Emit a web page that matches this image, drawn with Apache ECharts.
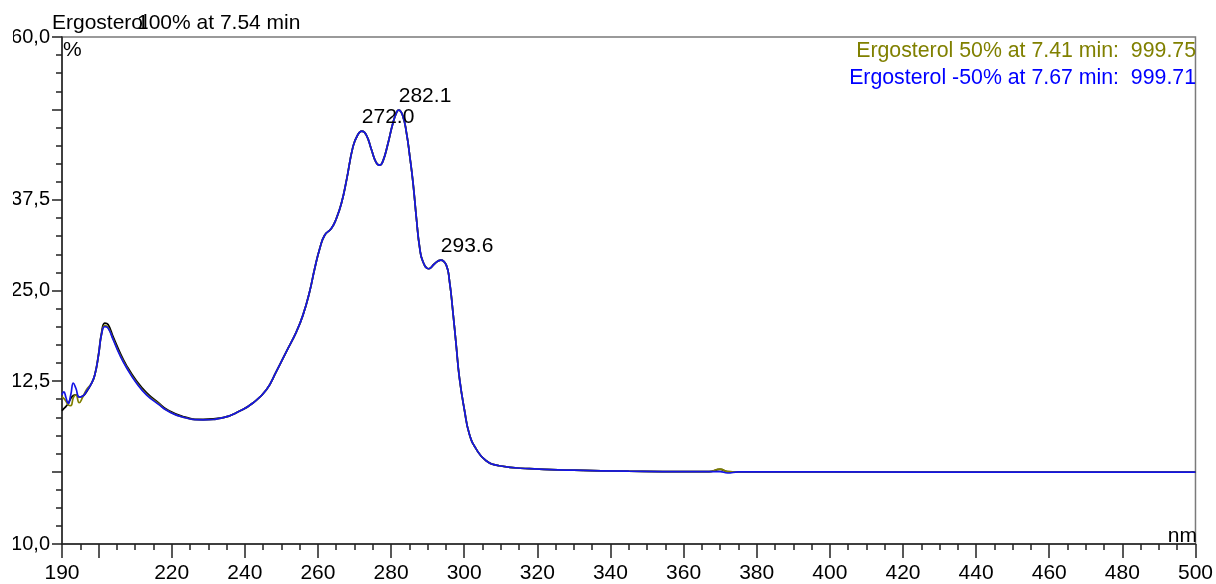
<!DOCTYPE html>
<html>
<head>
<meta charset="utf-8">
<title>Ergosterol UV spectra</title>
<script src="https://cdn.jsdelivr.net/npm/echarts@6/dist/echarts.min.js"></script>
<style>
  html, body { margin: 0; padding: 0; background: #fff; }
  /* the plot area is cut at the page margins, like the exported spectrum */
  #clip { position: absolute; left: 13px; top: 0; width: 1200px; height: 584px; overflow: hidden; }
  #chart { position: absolute; left: -13px; top: 0; width: 1216px; height: 584px; }
</style>
</head>
<body>
<div id="clip"><div id="chart"></div></div>
<script>
// Wavelength grid (nm) shared by the three spectra
const wavelengths = [
  190.0, 190.5, 191.1, 191.7, 192.4, 193.1, 193.8, 194.7, 195.6, 196.7,
  198.1, 199.0, 200.0, 200.8, 201.7, 202.6, 204.0, 205.8, 207.7, 210.4,
  213.1, 216.6, 218.6, 223.1, 228.6, 234.1, 238.6, 242.3, 245.9, 248.6,
  251.4, 254.1, 255.9, 257.7, 259.1, 260.5, 261.8, 263.7, 265.0, 266.4,
  267.8, 269.6, 270.9, 272.0, 273.2, 274.6, 275.9, 276.9, 277.8, 279.1,
  280.5, 281.6, 282.1, 283.2, 284.2, 285.1, 286.0, 287.0, 287.8, 288.7,
  290.3, 291.9, 293.6, 295.1, 296.0, 296.9, 297.8, 298.7, 300.1, 301.4,
  303.3, 306.0, 309.6, 317.8, 330.0, 345.0, 360.0, 367.0, 370.0, 372.0,
  375.0, 400.0, 450.0, 500.0
];

// Ergosterol 100% at 7.54 min (black)
const ergosterol100 = [
  8.4, 8.7, 9.0, 9.4, 10.1, 10.5, 10.6, 10.3, 10.4, 11.0,
  12.2, 13.4, 16.2, 19.1, 20.5, 20.3, 18.6, 16.5, 14.6, 12.5,
  10.9, 9.4, 8.6, 7.6, 7.2, 7.45, 8.35, 9.5, 11.3, 13.8,
  16.6, 19.3, 21.6, 24.8, 28.0, 30.8, 32.6, 33.6, 34.9, 37.0,
  40.2, 44.9, 46.5, 47.0, 46.5, 44.5, 42.7, 42.3, 42.9, 45.2,
  48.1, 49.7, 49.9, 49.1, 46.8, 43.6, 39.9, 34.6, 31.0, 29.0,
  28.0, 28.7, 29.2, 28.5, 26.2, 22.1, 17.5, 12.9, 8.4, 5.2,
  3.1, 1.5, 0.8, 0.4, 0.2, 0.05, -0.02, -0.02, 0.3, 0.0,
  -0.05, -0.05, -0.08, -0.08
];

// Ergosterol 50% at 7.41 min (olive)
const ergosterol50 = [
  10.3, 10.1, 9.7, 9.2, 9.1, 10.2, 10.6, 9.5, 10.2, 11.3,
  12.2, 13.4, 16.1, 18.9, 20.2, 19.9, 18.3, 16.2, 14.4, 12.3,
  10.7, 9.3, 8.5, 7.5, 7.15, 7.45, 8.35, 9.5, 11.3, 13.8,
  16.6, 19.3, 21.6, 24.8, 28.0, 30.8, 32.6, 33.6, 34.9, 37.0,
  40.2, 44.9, 46.5, 47.0, 46.5, 44.5, 42.7, 42.3, 42.9, 45.2,
  48.1, 49.7, 49.9, 49.1, 46.8, 43.6, 39.9, 34.6, 31.0, 29.0,
  28.0, 28.7, 29.2, 28.5, 26.2, 22.1, 17.5, 12.9, 8.4, 5.2,
  3.1, 1.5, 0.8, 0.4, 0.2, 0.05, -0.02, -0.02, 0.35, 0.0,
  -0.05, -0.05, -0.08, -0.08
];

// Ergosterol -50% at 7.67 min (blue)
const ergosterolMinus50 = [
  10.6, 11.0, 10.2, 9.4, 10.6, 12.2, 11.5, 10.3, 10.4, 11.1,
  12.2, 13.4, 16.1, 18.9, 20.0, 19.8, 18.2, 16.1, 14.3, 12.2,
  10.6, 9.2, 8.45, 7.5, 7.15, 7.45, 8.35, 9.5, 11.3, 13.8,
  16.6, 19.3, 21.6, 24.8, 28.0, 30.8, 32.6, 33.6, 34.9, 37.0,
  40.2, 44.9, 46.5, 47.0, 46.5, 44.5, 42.7, 42.3, 42.9, 45.2,
  48.1, 49.7, 49.9, 49.1, 46.8, 43.6, 39.9, 34.6, 31.0, 29.0,
  28.0, 28.7, 29.2, 28.5, 26.2, 22.1, 17.5, 12.9, 8.4, 5.2,
  3.1, 1.5, 0.8, 0.4, 0.2, 0.05, -0.02, -0.02, 0.0, -0.2,
  -0.05, -0.05, -0.08, -0.08
];

// Labelled absorption maxima (nm)
const peakWavelengths = [272.0, 282.1, 293.6];

// Tick and label positions
const xLabelValues = [190, 220, 240, 260, 280, 300, 320, 340, 360, 380, 400, 420, 440, 460, 480, 500];
const xMajorTicks = [190, 200, 220, 240, 260, 280, 300, 320, 340, 360, 380, 400, 420, 440, 460, 480, 500];
const yLabelValues = [-10, 12.5, 25, 37.5, 60];
const yMajorTicks = [-10, 0, 12.5, 25, 37.5, 50, 60];

const FONT = 'Liberation Sans, Arial, sans-serif';
const BLUE = '#1414e6';
const OLIVE = '#808000';

const pairs = (ys) => wavelengths.map((w, i) => [w, ys[i]]);
const peakData = peakWavelengths.map(w => [w, ergosterolMinus50[wavelengths.indexOf(w)]]);

const chart = echarts.init(document.getElementById('chart'), null, { renderer: 'canvas' });

const axisLineStyle = { color: '#222', width: 1.5 };

chart.setOption({
  animation: false,
  backgroundColor: '#fff',
  grid: {
    left: 62, right: 19, top: 37, bottom: 36,
    show: true, borderColor: '#7a7a7a', borderWidth: 1.5, backgroundColor: 'transparent'
  },
  xAxis: [
    {
      type: 'value', min: 190, max: 500, position: 'bottom',
      axisLine: { show: true, onZero: false, lineStyle: axisLineStyle },
      axisTick: { show: true, length: 14, customValues: xMajorTicks, lineStyle: axisLineStyle },
      axisLabel: { show: true, customValues: xLabelValues, margin: 19, color: '#000', fontFamily: FONT, fontSize: 21 },
      splitLine: { show: false }
    },
    {
      // minor ticks every 5 nm
      type: 'value', min: 190, max: 500, interval: 5, position: 'bottom',
      axisLine: { show: false, onZero: false },
      axisTick: { show: true, length: 6, lineStyle: axisLineStyle },
      axisLabel: { show: false },
      splitLine: { show: false }
    }
  ],
  yAxis: [
    {
      type: 'value', min: -10, max: 60, position: 'left',
      axisLine: { show: true, onZero: false, lineStyle: axisLineStyle },
      axisTick: { show: true, length: 10, customValues: yMajorTicks, lineStyle: axisLineStyle },
      axisLabel: {
        show: true, customValues: yLabelValues, margin: 12, color: '#000', fontFamily: FONT, fontSize: 20,
        formatter: v => v.toFixed(1).replace('.', ',')
      },
      splitLine: { show: false }
    },
    {
      // minor ticks every 2.5 %
      type: 'value', min: -10, max: 60, interval: 2.5, position: 'left',
      axisLine: { show: false, onZero: false },
      axisTick: { show: true, length: 6, lineStyle: axisLineStyle },
      axisLabel: { show: false },
      splitLine: { show: false }
    }
  ],
  series: [
    {
      name: 'Ergosterol 100%', type: 'line', data: pairs(ergosterol100),
      smooth: 0.5, showSymbol: false, lineStyle: { color: '#000', width: 1.7 }, z: 2
    },
    {
      name: 'Ergosterol 50%', type: 'line', data: pairs(ergosterol50),
      smooth: 0.5, showSymbol: false, lineStyle: { color: OLIVE, width: 1.7 }, z: 3
    },
    {
      name: 'Ergosterol -50%', type: 'line', data: pairs(ergosterolMinus50),
      smooth: 0.5, showSymbol: false, lineStyle: { color: BLUE, width: 1.7 }, z: 4
    },
    {
      name: 'peaks', type: 'scatter', data: peakData, symbolSize: 1,
      itemStyle: { color: 'rgba(255,255,255,0)' }, z: 5,
      label: {
        show: true, position: 'top', distance: 3, align: 'left', opacity: 1,
        color: '#000', fontFamily: FONT, fontSize: 21, textBorderWidth: 0,
        formatter: p => p.value[0].toFixed(1)
      }
    }
  ],
  graphic: [
    { type: 'text', x: 52, y: 23, style: { text: 'Ergosterol', font: '21px ' + FONT, fill: '#000', align: 'left', verticalAlign: 'middle' } },
    { type: 'text', x: 137, y: 23, style: { text: '100% at 7.54 min', font: '21px ' + FONT, fill: '#000', align: 'left', verticalAlign: 'middle' } },
    { type: 'text', x: 63, y: 50, style: { text: '%', font: '21px ' + FONT, fill: '#000', align: 'left', verticalAlign: 'middle' } },
    { type: 'text', x: 1197, y: 536, style: { text: 'nm', font: '21px ' + FONT, fill: '#000', align: 'right', verticalAlign: 'middle' } },
    { type: 'text', x: 1196, y: 51, style: { text: 'Ergosterol 50% at 7.41 min:  999.75', font: '21.3px ' + FONT, fill: OLIVE, align: 'right', verticalAlign: 'middle' } },
    { type: 'text', x: 1196, y: 78, style: { text: 'Ergosterol -50% at 7.67 min:  999.71', font: '21.3px ' + FONT, fill: '#0000ff', align: 'right', verticalAlign: 'middle' } }
  ]
});
</script>
</body>
</html>
